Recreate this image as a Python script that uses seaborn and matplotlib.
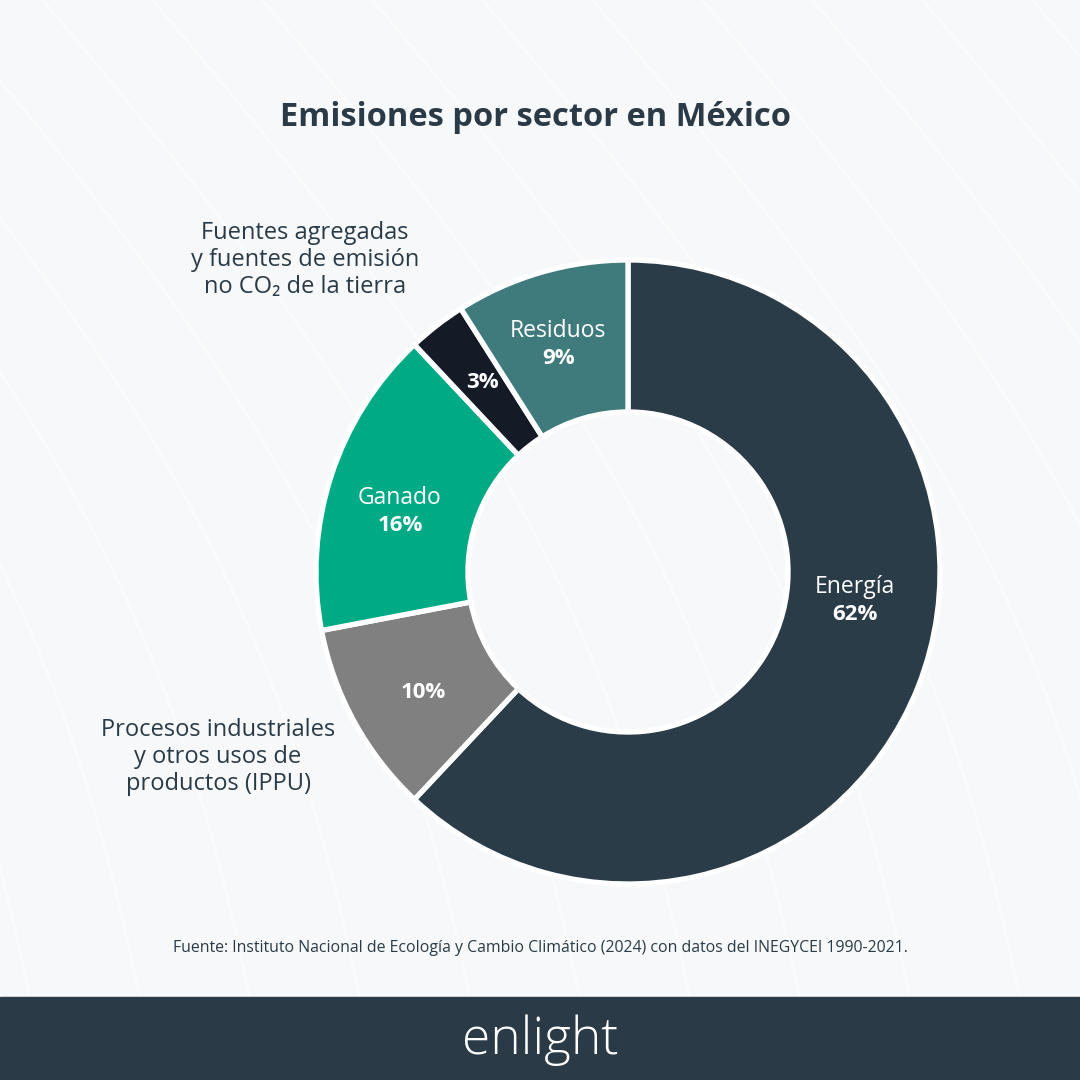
import matplotlib
matplotlib.use("Agg")
import matplotlib.pyplot as plt
import seaborn as sns
import numpy as np

sectors = ["Energía", "Procesos industriales\ny otros usos de\nproductos (IPPU)", "Ganado",
           "Fuentes agregadas\ny fuentes de emisión\nno CO₂ de la tierra", "Residuos"]
values = [62, 10, 16, 3, 9]
colors = ["#2a3c48", "#808080", "#00aa85", "#141a26", "#3f7b7d"]
inner_names = ["Energía", None, "Ganado", None, "Residuos"]
pct_labels = ["62%", "10%", "16%", "3%", "9%"]

TITLE = "Emisiones por sector en México"
SOURCE = "Fuente: Instituto Nacional de Ecología y Cambio Climático (2024) con datos del INEGYCEI 1990-2021."
BRAND = "enlight"

sns.set_theme(style="white")
FONT = ["Open Sans", "DejaVu Sans"]
plt.rcParams["font.family"] = FONT

BG = "#f7f8f9"
DARK = "#2a3b47"

fig = plt.figure(figsize=(10.8, 10.8), dpi=100)
fig.patch.set_facecolor(BG)

# subtle background curves
bg = fig.add_axes([0, 0, 1, 1], zorder=0)
bg.set_xlim(0, 1080); bg.set_ylim(1080, 0); bg.axis("off")
t = np.linspace(0, 1, 200)
for k in range(-6, 14):
    x0 = k * 110
    xs = x0 + 600 * t + 120 * np.sin(np.pi * t)
    ys = -50 + 1150 * t
    bg.plot(xs, ys, color="white", lw=2.0, alpha=0.55)

# footer bar
bg.add_patch(plt.Rectangle((0, 997), 1080, 83, color=DARK, zorder=2))

# donut
cx, cy, R = 628, 572, 312
ax = fig.add_axes([(cx - R) / 1080, (1080 - cy - R) / 1080, 2 * R / 1080, 2 * R / 1080], zorder=1)
wedges, _ = ax.pie(values, colors=colors, startangle=90, counterclock=False,
                   radius=1.0, wedgeprops=dict(width=0.487, edgecolor="white", linewidth=3.8))
for w in wedges:
    w.set_clip_on(False)
ax.set_xlim(-1, 1); ax.set_ylim(-1, 1); ax.set_aspect("equal"); ax.axis("off")

label_pos = [(0.728, -0.092), (-0.657, -0.385), (-0.731, 0.195), (-0.465, 0.606), (-0.224, 0.730)]
for name, pct, (x, y) in zip(inner_names, pct_labels, label_pos):
    if name:
        ax.text(x, y + 0.043, name, ha="center", va="center", color="white", fontsize=16.5)
        ax.text(x, y - 0.045, pct, ha="center", va="center", color="white", fontsize=16, fontweight="bold")
    else:
        ax.text(x, y, pct, ha="center", va="center", color="white", fontsize=16, fontweight="bold")

# outside labels
fig.text(305 / 1080, 1 - 260 / 1080, sectors[3], ha="center", va="center", color=DARK,
         fontsize=17, linespacing=1.15)
fig.text(218 / 1080, 1 - 757 / 1080, sectors[1], ha="center", va="center", color=DARK,
         fontsize=17, linespacing=1.15)

fig.text(536 / 1080, 1 - 118 / 1080, TITLE, ha="center", va="center", color=DARK,
         fontsize=23.5, fontweight="bold")
fig.text(540 / 1080, 1 - 948 / 1080, SOURCE, ha="center", va="center", color=DARK, fontsize=11.4)
fig.text(540 / 1080, 1 - 1040 / 1080, BRAND, ha="center", va="center", color="white",
         fontsize=37, fontweight="light", zorder=5)

fig.savefig("out.png", dpi=100, facecolor=BG)
